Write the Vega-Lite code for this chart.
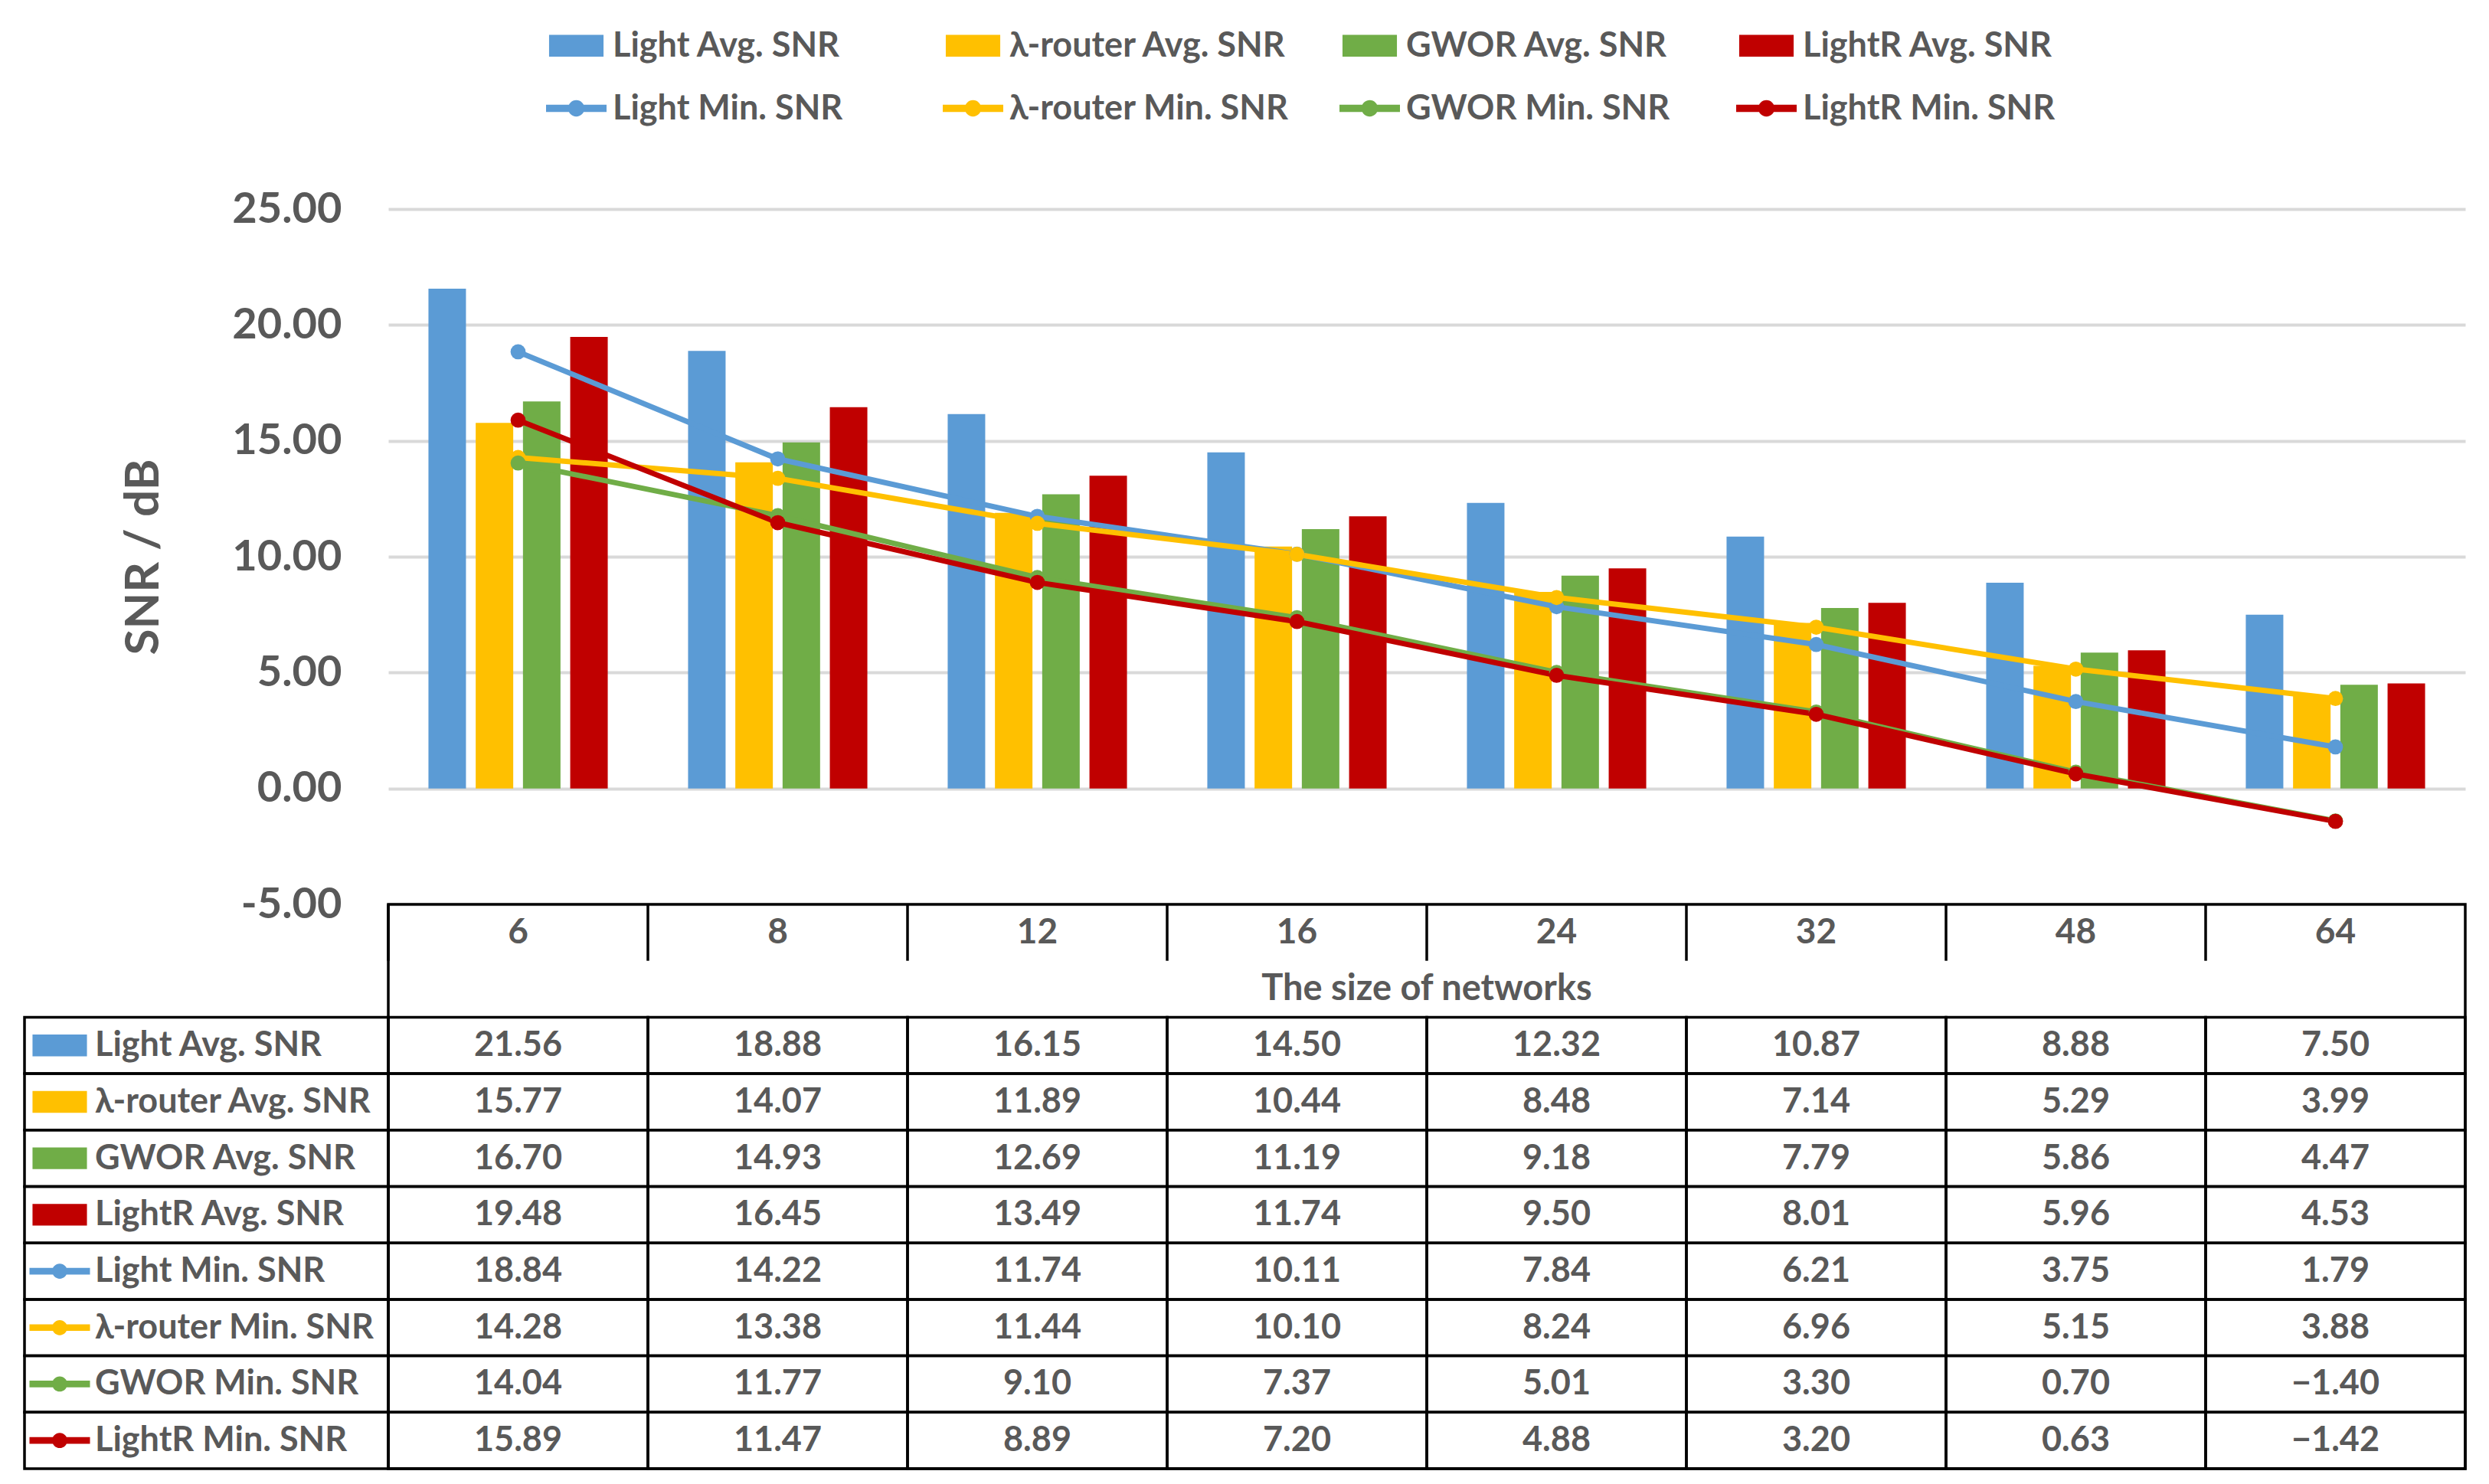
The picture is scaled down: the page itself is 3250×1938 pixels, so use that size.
{
  "$schema": "https://vega.github.io/schema/vega-lite/v6.json",
  "background": "white",
  "padding": {"left": 30, "top": 20, "right": 0, "bottom": 0},
  "autosize": {"type": "pad"},
  "config": {
    "view": {"stroke": null},
    "font": "Lato",
    "text": {"font": "Lato", "fontWeight": "bold", "color": "#595959"}
  },
  "datasets": {
    "t": [
      {"n": 6, "g": "Light", "k": "avg", "s": "Light Avg. SNR", "v": 21.56},
      {"n": 8, "g": "Light", "k": "avg", "s": "Light Avg. SNR", "v": 18.88},
      {"n": 12, "g": "Light", "k": "avg", "s": "Light Avg. SNR", "v": 16.15},
      {"n": 16, "g": "Light", "k": "avg", "s": "Light Avg. SNR", "v": 14.50},
      {"n": 24, "g": "Light", "k": "avg", "s": "Light Avg. SNR", "v": 12.32},
      {"n": 32, "g": "Light", "k": "avg", "s": "Light Avg. SNR", "v": 10.87},
      {"n": 48, "g": "Light", "k": "avg", "s": "Light Avg. SNR", "v": 8.88},
      {"n": 64, "g": "Light", "k": "avg", "s": "Light Avg. SNR", "v": 7.50},
      {"n": 6, "g": "λ-router", "k": "avg", "s": "λ-router Avg. SNR", "v": 15.77},
      {"n": 8, "g": "λ-router", "k": "avg", "s": "λ-router Avg. SNR", "v": 14.07},
      {"n": 12, "g": "λ-router", "k": "avg", "s": "λ-router Avg. SNR", "v": 11.89},
      {"n": 16, "g": "λ-router", "k": "avg", "s": "λ-router Avg. SNR", "v": 10.44},
      {"n": 24, "g": "λ-router", "k": "avg", "s": "λ-router Avg. SNR", "v": 8.48},
      {"n": 32, "g": "λ-router", "k": "avg", "s": "λ-router Avg. SNR", "v": 7.14},
      {"n": 48, "g": "λ-router", "k": "avg", "s": "λ-router Avg. SNR", "v": 5.29},
      {"n": 64, "g": "λ-router", "k": "avg", "s": "λ-router Avg. SNR", "v": 3.99},
      {"n": 6, "g": "GWOR", "k": "avg", "s": "GWOR Avg. SNR", "v": 16.70},
      {"n": 8, "g": "GWOR", "k": "avg", "s": "GWOR Avg. SNR", "v": 14.93},
      {"n": 12, "g": "GWOR", "k": "avg", "s": "GWOR Avg. SNR", "v": 12.69},
      {"n": 16, "g": "GWOR", "k": "avg", "s": "GWOR Avg. SNR", "v": 11.19},
      {"n": 24, "g": "GWOR", "k": "avg", "s": "GWOR Avg. SNR", "v": 9.18},
      {"n": 32, "g": "GWOR", "k": "avg", "s": "GWOR Avg. SNR", "v": 7.79},
      {"n": 48, "g": "GWOR", "k": "avg", "s": "GWOR Avg. SNR", "v": 5.86},
      {"n": 64, "g": "GWOR", "k": "avg", "s": "GWOR Avg. SNR", "v": 4.47},
      {"n": 6, "g": "LightR", "k": "avg", "s": "LightR Avg. SNR", "v": 19.48},
      {"n": 8, "g": "LightR", "k": "avg", "s": "LightR Avg. SNR", "v": 16.45},
      {"n": 12, "g": "LightR", "k": "avg", "s": "LightR Avg. SNR", "v": 13.49},
      {"n": 16, "g": "LightR", "k": "avg", "s": "LightR Avg. SNR", "v": 11.74},
      {"n": 24, "g": "LightR", "k": "avg", "s": "LightR Avg. SNR", "v": 9.50},
      {"n": 32, "g": "LightR", "k": "avg", "s": "LightR Avg. SNR", "v": 8.01},
      {"n": 48, "g": "LightR", "k": "avg", "s": "LightR Avg. SNR", "v": 5.96},
      {"n": 64, "g": "LightR", "k": "avg", "s": "LightR Avg. SNR", "v": 4.53},
      {"n": 6, "g": "Light", "k": "min", "s": "Light Min. SNR", "v": 18.84},
      {"n": 8, "g": "Light", "k": "min", "s": "Light Min. SNR", "v": 14.22},
      {"n": 12, "g": "Light", "k": "min", "s": "Light Min. SNR", "v": 11.74},
      {"n": 16, "g": "Light", "k": "min", "s": "Light Min. SNR", "v": 10.11},
      {"n": 24, "g": "Light", "k": "min", "s": "Light Min. SNR", "v": 7.84},
      {"n": 32, "g": "Light", "k": "min", "s": "Light Min. SNR", "v": 6.21},
      {"n": 48, "g": "Light", "k": "min", "s": "Light Min. SNR", "v": 3.75},
      {"n": 64, "g": "Light", "k": "min", "s": "Light Min. SNR", "v": 1.79},
      {"n": 6, "g": "λ-router", "k": "min", "s": "λ-router Min. SNR", "v": 14.28},
      {"n": 8, "g": "λ-router", "k": "min", "s": "λ-router Min. SNR", "v": 13.38},
      {"n": 12, "g": "λ-router", "k": "min", "s": "λ-router Min. SNR", "v": 11.44},
      {"n": 16, "g": "λ-router", "k": "min", "s": "λ-router Min. SNR", "v": 10.10},
      {"n": 24, "g": "λ-router", "k": "min", "s": "λ-router Min. SNR", "v": 8.24},
      {"n": 32, "g": "λ-router", "k": "min", "s": "λ-router Min. SNR", "v": 6.96},
      {"n": 48, "g": "λ-router", "k": "min", "s": "λ-router Min. SNR", "v": 5.15},
      {"n": 64, "g": "λ-router", "k": "min", "s": "λ-router Min. SNR", "v": 3.88},
      {"n": 6, "g": "GWOR", "k": "min", "s": "GWOR Min. SNR", "v": 14.04},
      {"n": 8, "g": "GWOR", "k": "min", "s": "GWOR Min. SNR", "v": 11.77},
      {"n": 12, "g": "GWOR", "k": "min", "s": "GWOR Min. SNR", "v": 9.10},
      {"n": 16, "g": "GWOR", "k": "min", "s": "GWOR Min. SNR", "v": 7.37},
      {"n": 24, "g": "GWOR", "k": "min", "s": "GWOR Min. SNR", "v": 5.01},
      {"n": 32, "g": "GWOR", "k": "min", "s": "GWOR Min. SNR", "v": 3.30},
      {"n": 48, "g": "GWOR", "k": "min", "s": "GWOR Min. SNR", "v": 0.70},
      {"n": 64, "g": "GWOR", "k": "min", "s": "GWOR Min. SNR", "v": -1.40},
      {"n": 6, "g": "LightR", "k": "min", "s": "LightR Min. SNR", "v": 15.89},
      {"n": 8, "g": "LightR", "k": "min", "s": "LightR Min. SNR", "v": 11.47},
      {"n": 12, "g": "LightR", "k": "min", "s": "LightR Min. SNR", "v": 8.89},
      {"n": 16, "g": "LightR", "k": "min", "s": "LightR Min. SNR", "v": 7.20},
      {"n": 24, "g": "LightR", "k": "min", "s": "LightR Min. SNR", "v": 4.88},
      {"n": 32, "g": "LightR", "k": "min", "s": "LightR Min. SNR", "v": 3.20},
      {"n": 48, "g": "LightR", "k": "min", "s": "LightR Min. SNR", "v": 0.63},
      {"n": 64, "g": "LightR", "k": "min", "s": "LightR Min. SNR", "v": -1.42}
    ]
  },
  "columns": 2,
  "spacing": 0,
  "bounds": "flush",
  "resolve": {"scale": {"color": "shared"}},
  "concat": [
    {
      "width": 475,
      "height": 908,
      "data": {"values": []},
      "mark": "point",
      "encoding": {}
    },
    {
      "width": 2712,
      "height": 908,
      "data": {"name": "t"},
      "encoding": {
        "x": {"field": "n", "type": "ordinal", "scale": {"paddingInner": 0, "paddingOuter": 0}, "axis": null},
        "y": {
          "field": "v",
          "type": "quantitative",
          "scale": {"domain": [-5, 25], "nice": false, "zero": false},
          "axis": {
            "values": [-5, 0, 5, 10, 15, 20, 25],
            "labelExpr": "replace(format(datum.value, '.2f'), '−', '-')",
            "domain": false,
            "ticks": false,
            "grid": true,
            "gridColor": "#D9D9D9",
            "gridWidth": 4,
            "labelFont": "Lato",
            "labelFontSize": 56,
            "labelFontWeight": "bold",
            "labelColor": "#595959",
            "labelPadding": 61,
            "title": "SNR / dB",
            "titleFont": "Lato",
            "titleFontSize": 62,
            "titleFontWeight": "bold",
            "titleColor": "#595959",
            "titleX": -320,
            "titleY": 454,
            "titleAngle": 270,
            "titleAlign": "center",
            "titleBaseline": "middle"
          }
        }
      },
      "layer": [
        {
          "transform": [{"filter": "datum.k == 'avg'"}],
          "mark": {"type": "bar"},
          "encoding": {
            "xOffset": {"field": "g", "type": "nominal", "scale": {"domain": ["Light", "λ-router", "GWOR", "LightR"], "paddingInner": 0.206, "paddingOuter": 0.85}},
            "color": {
              "field": "s",
              "type": "nominal",
              "scale": {
                "domain": ["Light Avg. SNR", "λ-router Avg. SNR", "GWOR Avg. SNR", "LightR Avg. SNR", "Light Min. SNR", "λ-router Min. SNR", "GWOR Min. SNR", "LightR Min. SNR"],
                "range": ["#5B9BD5", "#FFC000", "#70AD47", "#C00000", "#5B9BD5", "#FFC000", "#70AD47", "#C00000"]
              },
              "legend": {
                "title": null,
                "orient": "none",
                "legendX": 681,
                "legendY": -253,
                "direction": "horizontal",
                "columns": 4,
                "gridAlign": "all",
                "columnPadding": 66,
                "rowPadding": 19,
                "padding": 0,
                "symbolSize": 6241,
                "symbolStrokeWidth": 0,
                "symbolOpacity": 1,
                "labelOffset": 8,
                "labelFont": "Lato",
                "labelFontSize": 45,
                "labelFontWeight": "bold",
                "labelColor": "#595959",
                "labelLimit": 1000,
                "encode": {
                  "symbols": {
                    "update": {
                      "shape": {"signal": "indexof(datum.value, 'Avg') >= 0 ? 'M-0.9,-0.36H0.9V0.36H-0.9Z' : 'M-1,-0.12H1V0.12H-1Z M-0.27,0A0.27,0.27 0 1,1 0.27,0A0.27,0.27 0 1,1 -0.27,0Z'"},
                      "fill": {"scale": "color", "field": "value"},
                      "stroke": {"value": "transparent"},
                      "strokeWidth": {"value": 0},
                      "opacity": {"value": 1}
                    }
                  }
                }
              }
            }
          }
        },
        {
          "transform": [{"filter": "datum.k == 'min'"}],
          "mark": {"type": "line", "strokeWidth": 7},
          "encoding": {"color": {"field": "s", "type": "nominal"}}
        },
        {
          "transform": [{"filter": "datum.k == 'min'"}],
          "mark": {"type": "point", "filled": true, "size": 390, "opacity": 1},
          "encoding": {"color": {"field": "s", "type": "nominal"}}
        }
      ]
    },
    {
      "width": 475,
      "height": 737,
      "data": {"name": "t"},
      "transform": [{"filter": "datum.n == 6"}],
      "encoding": {
        "y": {
          "field": "s",
          "type": "nominal",
          "scale": {"domain": ["h1", "h2", "Light Avg. SNR", "λ-router Avg. SNR", "GWOR Avg. SNR", "LightR Avg. SNR", "Light Min. SNR", "λ-router Min. SNR", "GWOR Min. SNR", "LightR Min. SNR"], "paddingInner": 0, "paddingOuter": 0},
          "axis": null
        }
      },
      "layer": [
        {"mark": {"type": "rect", "fill": "transparent", "stroke": "black", "strokeWidth": 3.5}},
        {
          "mark": {"type": "point", "filled": true, "opacity": 1, "size": 6241, "strokeWidth": 0},
          "encoding": {
            "x": {"datum": "swatch", "type": "nominal", "scale": {"type": "point", "domain": ["swatch", "label"], "range": [46, 92], "padding": 0}, "axis": null},
            "color": {"field": "s", "type": "nominal"},
            "shape": {"field": "k", "type": "nominal", "scale": {"domain": ["avg", "min"], "range": ["M-0.9,-0.36H0.9V0.36H-0.9Z", "M-1,-0.11H1V0.11H-1Z M-0.25,0A0.25,0.25 0 1,1 0.25,0A0.25,0.25 0 1,1 -0.25,0Z"]}, "legend": null}
          }
        },
        {
          "mark": {"type": "text", "align": "left", "baseline": "middle", "fontSize": 45, "fontWeight": "bold", "color": "#595959"},
          "encoding": {
            "x": {"datum": "label", "type": "nominal", "scale": {"type": "point", "domain": ["swatch", "label"], "range": [46, 92], "padding": 0}, "axis": null},
            "text": {"field": "s"}
          }
        }
      ]
    },
    {
      "width": 2712,
      "height": 737,
      "view": {"stroke": "black", "strokeWidth": 3.5},
      "data": {"name": "t"},
      "encoding": {
        "x": {"field": "n", "type": "ordinal", "scale": {"paddingInner": 0, "paddingOuter": 0}, "axis": null},
        "y": {
          "field": "s",
          "type": "nominal",
          "scale": {"domain": ["h1", "h2", "Light Avg. SNR", "λ-router Avg. SNR", "GWOR Avg. SNR", "LightR Avg. SNR", "Light Min. SNR", "λ-router Min. SNR", "GWOR Min. SNR", "LightR Min. SNR"], "paddingInner": 0, "paddingOuter": 0},
          "axis": null
        }
      },
      "layer": [
        {"mark": {"type": "rect", "fill": "transparent", "stroke": "black", "strokeWidth": 3.5}},
        {
          "mark": {"type": "text", "fontSize": 45, "fontWeight": "bold", "color": "#595959"},
          "encoding": {"text": {"field": "v", "type": "quantitative", "format": ".2f"}}
        },
        {
          "transform": [{"filter": "datum.s == 'Light Avg. SNR'"}],
          "mark": {"type": "rule", "stroke": "black", "strokeWidth": 3.5},
          "encoding": {
            "x": {"field": "n", "type": "ordinal", "bandPosition": 0},
            "y": {"datum": "h1", "type": "nominal", "bandPosition": 0},
            "y2": {"datum": "h2", "bandPosition": 0}
          }
        },
        {
          "transform": [{"filter": "datum.s == 'Light Avg. SNR'"}],
          "mark": {"type": "text", "fontSize": 46, "fontWeight": "bold", "color": "#595959"},
          "encoding": {
            "y": {"datum": "h1", "type": "nominal"},
            "text": {"field": "n"}
          }
        },
        {
          "transform": [{"filter": "datum.s == 'Light Avg. SNR' && datum.n == 24"}],
          "mark": {"type": "text", "fontSize": 47, "fontWeight": "bold", "color": "#595959", "text": "The size of networks"},
          "encoding": {
            "x": {"field": "n", "type": "ordinal", "bandPosition": 0},
            "y": {"datum": "h2", "type": "nominal"}
          }
        }
      ]
    }
  ]
}
